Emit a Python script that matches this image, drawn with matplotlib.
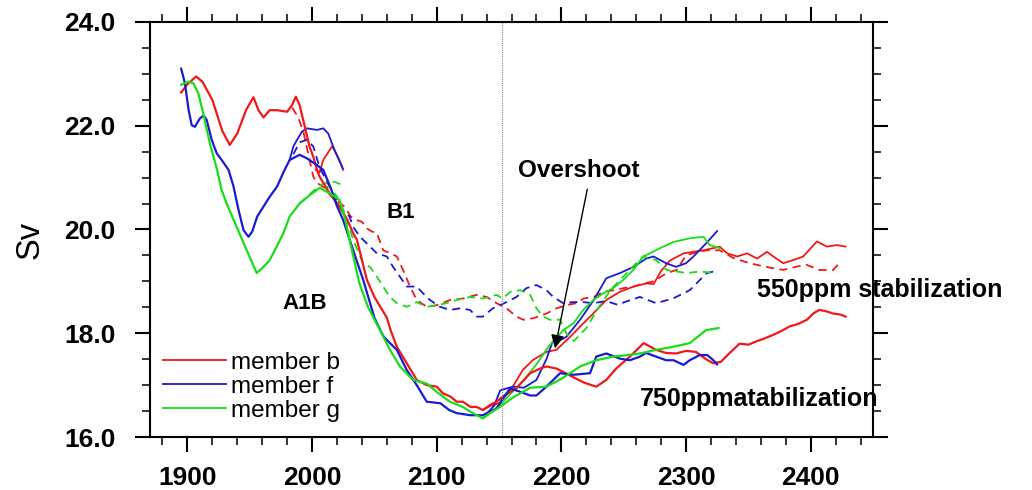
import matplotlib
matplotlib.use("Agg")
import matplotlib.pyplot as plt
from matplotlib.ticker import MultipleLocator

# ---------------- data ----------------
# member b: historical -> A1B -> 750 ppm stabilization (solid)
b_main_yr = [1895, 1900, 1907, 1912, 1920, 1928, 1934, 1940, 1947, 1953, 1957, 1961, 1966, 1972,
             1980, 1984, 1987, 1990, 1993, 1996, 1998, 2001, 2004, 2006, 2014, 2022, 2028, 2033,
             2036, 2044, 2050, 2055, 2060, 2063, 2068, 2076, 2084, 2092, 2100, 2105, 2111, 2116,
             2121, 2127, 2132, 2137, 2143, 2148, 2153, 2164, 2175, 2183, 2188, 2196, 2209, 2218,
             2228, 2236, 2244, 2255, 2266, 2276, 2284, 2292, 2300, 2308, 2316, 2322, 2328, 2335,
             2343, 2350, 2356, 2363, 2370, 2377, 2383, 2390, 2397, 2402, 2407, 2413, 2418, 2424, 2428]
b_main_sv = [22.64, 22.8, 22.95, 22.85, 22.5, 21.9, 21.63, 21.85, 22.3, 22.55, 22.3, 22.16, 22.3, 22.3,
             22.27, 22.4, 22.56, 22.4, 22.1, 21.8, 21.6, 21.4, 21.15, 21.02, 20.7, 20.44, 20.2, 19.93,
             19.8, 19.03, 18.7, 18.5, 18.3, 18.06, 17.74, 17.42, 17.1, 17.0, 16.97, 16.84, 16.78, 16.68,
             16.68, 16.58, 16.58, 16.52, 16.62, 16.68, 16.78, 16.94, 17.23, 17.32, 17.36, 17.32, 17.16, 17.05,
             16.97, 17.1, 17.32, 17.55, 17.81, 17.68, 17.62, 17.61, 17.66, 17.64, 17.5, 17.42, 17.45, 17.62,
             17.8, 17.78, 17.84, 17.9, 17.97, 18.05, 18.13, 18.18, 18.26, 18.38, 18.45, 18.42, 18.38, 18.36, 18.32]

# member f: historical -> A1B -> 750 ppm stabilization (solid)
f_main_yr = [1895, 1898, 1901, 1903.5, 1906, 1910, 1913, 1915.5, 1919.5, 1923.5, 1927.5, 1933, 1937,
             1941, 1945, 1949, 1952, 1956, 1961, 1966, 1972, 1977, 1982, 1990, 1996, 2004, 2009, 2015,
             2020, 2025, 2033, 2041, 2050, 2057, 2060, 2068, 2076, 2084, 2088, 2092, 2103, 2110, 2116,
             2127, 2137, 2143, 2148, 2153, 2159, 2167, 2175, 2180, 2188, 2199, 2210, 2223, 2228, 2236,
             2247, 2255, 2263, 2268, 2276, 2284, 2290, 2298, 2303, 2311, 2317, 2322, 2325]
f_main_sv = [23.1, 22.82, 22.3, 22.01, 21.98, 22.14, 22.2, 22.11, 21.73, 21.47, 21.34, 21.15, 20.83,
             20.38, 19.99, 19.86, 19.96, 20.25, 20.44, 20.63, 20.83, 21.1, 21.34, 21.44, 21.37, 21.24, 21.15, 20.8,
             20.45, 20.18, 19.6, 19.03, 18.3, 17.95, 17.87, 17.68, 17.29, 17.0, 16.84, 16.68, 16.65, 16.52, 16.46,
             16.42, 16.42, 16.49, 16.55, 16.74, 16.94, 16.87, 16.8, 16.8, 16.97, 17.23, 17.2, 17.23, 17.55, 17.61,
             17.51, 17.48, 17.55, 17.62, 17.55, 17.48, 17.48, 17.39, 17.48, 17.58, 17.58, 17.48, 17.4]

# member g: historical -> A1B -> 750 ppm stabilization (solid)
g_main_yr = [1895, 1900.7, 1904.7, 1908.7, 1912.7, 1918, 1923.5, 1927.5, 1931.5, 1939.5, 1947.6, 1955.6,
             1961, 1966, 1971.6, 1977, 1982, 1990, 1998, 2006, 2014, 2022, 2026, 2032, 2038, 2045, 2054.5,
             2062.5, 2070.5, 2081, 2092, 2100, 2110.6, 2121, 2126.7, 2137, 2142.7, 2150.8, 2161, 2175, 2188,
             2200, 2215, 2228, 2241.6, 2250, 2263, 2276, 2290, 2303, 2316, 2326]
g_main_sv = [22.79, 22.85, 22.82, 22.63, 22.24, 21.66, 21.18, 20.76, 20.5, 20.05, 19.6, 19.16,
             19.28, 19.41, 19.67, 19.93, 20.25, 20.5, 20.66, 20.8, 20.7, 20.57, 20.25, 19.6, 18.96, 18.5, 18.06,
             17.68, 17.36, 17.1, 17.03, 16.87, 16.68, 16.58, 16.49, 16.36, 16.46, 16.58, 16.76, 16.95, 16.97,
             17.12, 17.36, 17.48, 17.55, 17.57, 17.61, 17.68, 17.74, 17.81, 18.06, 18.1]

# overshoot runs (solid)
b_over_yr = [2137, 2143, 2150.8, 2161, 2169, 2177, 2188, 2196, 2207, 2217.6, 2225.6, 2236, 2247, 2258,
             2268, 2274, 2280, 2287, 2298, 2306, 2314, 2322, 2327, 2333, 2341, 2349, 2357, 2365, 2370,
             2378, 2386, 2394, 2405, 2413, 2421, 2428]
b_over_sv = [16.52, 16.6, 16.66, 16.97, 17.29, 17.48, 17.64, 17.68, 17.93, 18.19, 18.38, 18.64, 18.8, 18.9,
             18.96, 18.95, 19.2, 19.4, 19.54, 19.57, 19.6, 19.64, 19.67, 19.54, 19.48, 19.54, 19.44, 19.57, 19.48,
             19.35, 19.41, 19.48, 19.77, 19.67, 19.7, 19.67]
f_over_yr = [2140, 2146, 2151, 2161, 2170, 2180, 2188, 2193, 2200, 2204, 2215, 2226, 2236, 2247, 2258,
             2268, 2274, 2284, 2292, 2300, 2306, 2316, 2325]
f_over_sv = [16.45, 16.6, 16.9, 16.97, 16.95, 17.1, 17.5, 17.84, 17.88, 17.93, 18.26, 18.64, 19.06, 19.16, 19.28,
             19.44, 19.48, 19.35, 19.28, 19.35, 19.48, 19.73, 19.97]
g_over_yr = [2137, 2145, 2152, 2160, 2170, 2180, 2190, 2201.5, 2209.6, 2217.6, 2225.6, 2233.6, 2241.6,
             2249.7, 2257.7, 2265.7, 2273.5, 2279, 2290, 2303, 2314, 2319, 2327]
g_over_sv = [16.36, 16.5, 16.65, 16.85, 17.1, 17.4, 17.75, 18.06, 18.19, 18.45, 18.64, 18.77, 18.87,
             19.03, 19.22, 19.48, 19.57, 19.64, 19.76, 19.83, 19.86, 19.7, 19.64]

# B1 -> 550 ppm stabilization (dashed)
b_b1_yr = [1984, 1988.7, 1993, 1998, 2001, 2004, 2010, 2015, 2020, 2026, 2031, 2036, 2040, 2044, 2048,
           2052, 2057, 2062, 2068, 2073, 2078.6, 2084, 2092, 2100, 2110.6, 2121, 2132, 2140, 2148, 2156,
           2164, 2169.5, 2177.5, 2188, 2196, 2204, 2212, 2218, 2226, 2234, 2242, 2250, 2258, 2266, 2274,
           2284.5, 2292.5, 2296, 2300, 2308, 2316.6, 2327, 2338, 2351, 2364, 2378, 2388, 2396.6, 2407,
           2418, 2423]
b_b1_sv = [22.35, 22.17, 21.89, 21.34, 21.02, 20.9, 20.8, 20.65, 20.55, 20.44, 20.25, 20.18, 20.15, 20.02, 19.96,
           19.93, 19.6, 19.55, 19.48, 19.22, 18.9, 18.64, 18.51, 18.54, 18.64, 18.67, 18.74, 18.7, 18.58, 18.48,
           18.32, 18.26, 18.29, 18.38, 18.48, 18.54, 18.58, 18.67, 18.7, 18.8, 18.83, 18.87, 18.9, 18.96, 19.0,
           19.16, 19.22, 19.35, 19.5, 19.56, 19.6, 19.6, 19.45, 19.35, 19.28, 19.22, 19.28, 19.32, 19.22,
           19.22, 19.35]
f_b1_yr = [1985, 1990, 1996, 2001, 2006, 2014, 2022, 2030, 2033, 2038.5, 2044, 2052, 2060, 2065, 2070.5,
           2076, 2084, 2089, 2094.6, 2102.6, 2110.6, 2118.7, 2126.7, 2132, 2137, 2145, 2156, 2164, 2172,
           2180, 2188, 2193.5, 2201.5, 2209.6, 2217.6, 2225.6, 2236, 2245, 2253, 2263, 2276, 2289.6, 2303,
           2316.6, 2324]
f_b1_sv = [21.45, 21.68, 21.73, 21.6, 21.2, 20.83, 20.44, 20.25, 20.05, 19.86, 19.73, 19.54, 19.48, 19.28, 19.09,
           18.9, 18.9, 18.77, 18.64, 18.51, 18.45, 18.48, 18.45, 18.32, 18.32, 18.48, 18.6, 18.7, 18.87,
           18.93, 18.83, 18.7, 18.58, 18.6, 18.6, 18.58, 18.62, 18.55, 18.62, 18.7, 18.58, 18.67, 18.83,
           19.16, 19.2]
g_b1_yr = [2010, 2014, 2020, 2025, 2028, 2033, 2041, 2046.5, 2052, 2057, 2062.5, 2068, 2076, 2084, 2092,
           2100, 2108, 2116, 2126.7, 2137, 2148, 2153, 2159, 2167, 2175, 2180, 2185.5, 2191, 2199, 2204,
           2210, 2220, 2230, 2240, 2250, 2258, 2265.7, 2276, 2284.5, 2292.5, 2300.6, 2311, 2324.5]
g_b1_sv = [20.8, 20.83, 20.63, 20.38, 20.18, 19.8, 19.35, 19.28, 19.09, 18.9, 18.7, 18.58, 18.51, 18.6, 18.51,
           18.54, 18.58, 18.64, 18.7, 18.67, 18.74, 18.67, 18.8, 18.83, 18.74, 18.48, 18.32, 18.26, 18.26, 18.0,
           17.85, 18.1, 18.5, 18.85, 19.1, 19.3, 19.48, 19.41, 19.22, 19.19, 19.16, 19.19, 19.16]

# short runs around 2000
b_short_yr = [2003, 2006, 2009, 2016, 2018, 2022, 2025]
b_short_sv = [21.15, 21.1, 21.34, 21.6, 21.53, 21.34, 21.15]
f_short_yr = [1982, 1985, 1988, 1992, 1996, 2004, 2009, 2013, 2018, 2024.6]
f_short_sv = [21.34, 21.6, 21.73, 21.89, 21.95, 21.92, 21.95, 21.85, 21.53, 21.18]
g_short_yr = [1990, 2000, 2006, 2012, 2018, 2024]
g_short_sv = [20.5, 20.72, 20.85, 20.9, 20.92, 20.86]

members = ["member b", "member f", "member g"]
colors = ["#f01818", "#1a1ad0", "#19dd19"]

# ---------------- figure ----------------
fig = plt.figure(figsize=(10.32, 4.90), dpi=100)
ax = fig.add_axes([150 / 1032, 1 - 437 / 490, 723 / 1032, 415 / 490])

LW = 1.3
DASH = (0, (4.5, 3))
mains = [(b_main_yr, b_main_sv), (f_main_yr, f_main_sv), (g_main_yr, g_main_sv)]
overs = [(b_over_yr, b_over_sv), (f_over_yr, f_over_sv), (g_over_yr, g_over_sv)]
b1s = [(b_b1_yr, b_b1_sv), (f_b1_yr, f_b1_sv), (g_b1_yr, g_b1_sv)]
shorts = [(b_short_yr, b_short_sv, "-"), (f_short_yr, f_short_sv, "-"), (g_short_yr, g_short_sv, DASH)]

handles = []
for i in range(3):
    ax.plot(b1s[i][0], b1s[i][1], color=colors[i], lw=LW, linestyle=DASH)
    ax.plot(shorts[i][0], shorts[i][1], color=colors[i], lw=LW, linestyle=shorts[i][2])
    ax.plot(overs[i][0], overs[i][1], color=colors[i], lw=LW)
for i in range(3):
    h, = ax.plot(mains[i][0], mains[i][1], color=colors[i], lw=1.6, label=members[i])
    handles.append(h)

ax.axvline(2152, color="#888888", lw=0.8, linestyle=(0, (1, 1)))

ax.set_xlim(1870, 2450)
ax.set_ylim(16.0, 24.0)
ax.xaxis.set_major_locator(MultipleLocator(100))
ax.xaxis.set_minor_locator(MultipleLocator(20))
ax.yaxis.set_major_locator(MultipleLocator(2))
ax.yaxis.set_minor_locator(MultipleLocator(0.5))
ax.yaxis.set_major_formatter(matplotlib.ticker.FormatStrFormatter("%.1f"))

for s in ax.spines.values():
    s.set_linewidth(1.5)
ax.tick_params(which="both", direction="out", top=True, right=True)
ax.tick_params(which="major", length=10.8, width=1.5)
ax.tick_params(which="minor", length=5.8, width=1.1)
ax.tick_params(axis="y", which="major", pad=14)
ax.tick_params(axis="x", which="major", pad=10)
for lab in ax.get_xticklabels() + ax.get_yticklabels():
    lab.set_fontfamily("Liberation Sans")
    lab.set_fontweight("bold")
    lab.set_fontsize(19)

fig.text(30 / 1032, 1 - 240 / 490, "Sv", rotation=90, ha="center", va="center",
         fontsize=23.5, family="Liberation Sans")

tkw = dict(family="Liberation Sans", fontweight="bold", clip_on=False)
ax.text(2059.8, 20.216, "B1", fontsize=16, **tkw)
ax.text(1976.4, 18.467, "A1B", fontsize=16, **tkw)
ax.text(2165.4, 21.02, "Overshoot", fontsize=17.5, **tkw)
ax.text(2356.9, 18.69, "550ppm stabilization", fontsize=18, **tkw)
ax.text(2263.1, 16.603, "750ppmatabilization", fontsize=18, **tkw)

ax.annotate("", xy=(2194.9, 17.71), xytext=(2220.8, 20.775),
            arrowprops=dict(arrowstyle="-|>", color="black", lw=1.0, mutation_scale=20,
                            shrinkA=0, shrinkB=0))

leg = ax.legend(handles=handles, loc="upper left", bbox_to_anchor=(0.018, 0.205),
                frameon=False, borderpad=0, borderaxespad=0, handlelength=2.6,
                handletextpad=0.2, labelspacing=0.08,
                prop=dict(family="Liberation Sans", size=17.5))
for ln in leg.get_lines():
    ln.set_linewidth(1.3)

fig.savefig("out.png", dpi=100)
